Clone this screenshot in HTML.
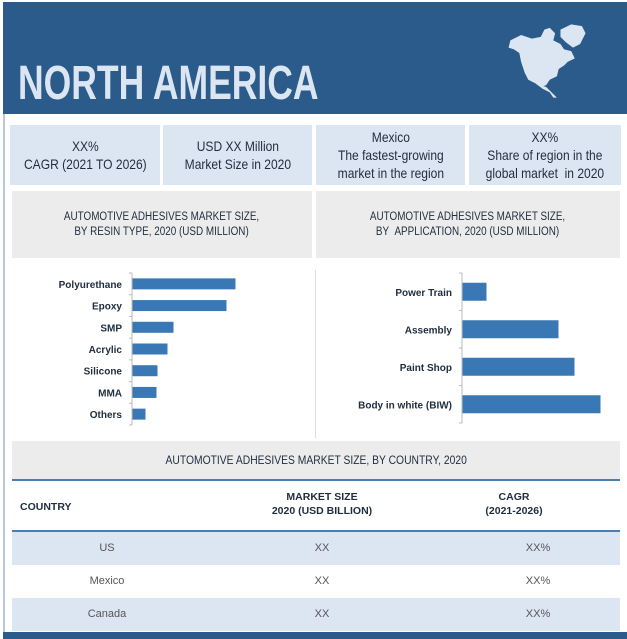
<!DOCTYPE html>
<html><head><meta charset="utf-8"><style>
*{margin:0;padding:0;box-sizing:border-box}
body{width:627px;height:639px;background:#fff;position:relative;overflow:hidden;font-family:"Liberation Sans",sans-serif;color:#1f2d3d}
.abs{position:absolute}
.box{position:absolute;background:#dce6f2;display:flex;align-items:center;justify-content:center;text-align:center;font-size:14px;line-height:18px;color:#1f2d3d}
.box span,.gray span{display:inline-block;transform:scaleX(0.86);white-space:nowrap}
.gray{position:absolute;background:#ececec;display:flex;align-items:center;justify-content:center;text-align:center;font-size:11.5px;line-height:15px;color:#1f2d3d}
.row{position:absolute;left:12px;width:608px;font-size:11px;color:#555}
.row span{position:absolute;top:0;transform:translateX(-50%)}
</style></head><body>
<div class="abs" style="left:3px;top:114px;width:2px;height:520px;background:#b8c8d8"></div>
<div class="abs" style="left:3px;top:2px;width:624px;height:112px;background:#2b5b8a"></div>
<div class="abs" style="left:18px;top:58px;font-size:48px;font-weight:bold;color:#dce6f2;line-height:52px;transform:scaleX(0.74);transform-origin:0 0;white-space:nowrap">NORTH AMERICA</div>
<svg class="abs" style="left:505px;top:20px" width="85" height="82" viewBox="0 0 95 90">
<path fill="#dce6f2" d="M6,22 L18,16 L30,20 L40,18 L44,10 L50,8 L56,14 L54,22 L62,26 L66,32 L74,34 L78,42 L70,46 L66,50 L60,54 L58,62 L50,66 L46,72 L40,74 L34,70 L26,66 L22,58 L18,46 L16,36 L10,32 L4,30 Z"/>
<path fill="#dce6f2" d="M62,10 L74,4 L86,6 L90,14 L84,26 L76,30 L68,24 L62,18 Z"/>
<path fill="#dce6f2" d="M34,70 L42,76 L50,80 L54,86 L58,86 L50,78 L46,74 Z"/>
</svg>
<div class="box" style="left:10px;top:125px;width:150px;height:60px"><span>XX%<br>CAGR (2021 TO 2026)</span></div>
<div class="box" style="left:163px;top:125px;width:149px;height:60px"><span>USD XX Million<br>Market Size in 2020</span></div>
<div class="box" style="left:316px;top:125px;width:149px;height:60px"><span>Mexico<br>The fastest-growing<br>market in the region</span></div>
<div class="box" style="left:469px;top:125px;width:152px;height:60px"><span>XX%<br>Share of region in the<br>global market &nbsp;in 2020</span></div>
<div class="gray" style="left:12px;top:191px;width:300px;height:67px"><span>AUTOMOTIVE ADHESIVES MARKET SIZE,<br>BY RESIN TYPE, 2020 (USD MILLION)</span></div>
<div class="gray" style="left:316px;top:191px;width:304px;height:67px"><span>AUTOMOTIVE ADHESIVES MARKET SIZE,<br>BY &nbsp;APPLICATION, 2020 (USD MILLION)</span></div>
<div class="abs" style="left:315px;top:270px;width:1px;height:168px;background:#ddd"></div>
<svg id="charts" class="abs" style="left:0;top:0" width="627" height="639"></svg>
<div class="gray" style="left:12px;top:441px;width:608px;height:38px;font-size:12px"><span>AUTOMOTIVE ADHESIVES MARKET SIZE, BY COUNTRY, 2020</span></div>
<div class="abs" style="left:12px;top:479px;width:608px;height:2px;background:#4a7fb0"></div>
<div class="row" style="top:490px;height:40px;font-weight:bold;color:#1f2d3d;font-size:10.5px;line-height:14px">
<span style="left:8px;transform:none;top:10px">COUNTRY</span>
<span style="left:310px;text-align:center;white-space:nowrap">MARKET SIZE<br>2020 (USD BILLION)</span>
<span style="left:502px;text-align:center;white-space:nowrap">CAGR<br>(2021-2026)</span>
</div>
<div class="abs" style="left:12px;top:530px;width:608px;height:2px;background:#4a7fb0"></div>
<div class="row" style="top:532px;height:33px;background:#dce6f2;line-height:33px"><span style="left:95px">US</span><span style="left:310px">XX</span><span style="left:526px">XX%</span></div>
<div class="row" style="top:565px;height:33px;line-height:33px"><span style="left:95px">Mexico</span><span style="left:310px">XX</span><span style="left:526px">XX%</span></div>
<div class="row" style="top:598px;height:33px;background:#dce6f2;line-height:33px"><span style="left:95px">Canada</span><span style="left:310px">XX</span><span style="left:526px">XX%</span></div>
<div class="abs" style="left:3px;top:632px;width:624px;height:7px;background:#2b5b8a"></div>
<script>
const resinCategories=["Polyurethane","Epoxy","SMP","Acrylic","Silicone","MMA","Others"];
const resinValues=[103,94,41,35,25,24,13];
const appCategories=["Power Train","Assembly","Paint Shop","Body in white (BIW)"];
const appValues=[24,96,112,138];
const NS="http://www.w3.org/2000/svg";
const svg=document.getElementById('charts');
function mk(t,a){const e=document.createElementNS(NS,t);for(const k in a)e.setAttribute(k,a[k]);svg.appendChild(e);return e;}
function drawChart(cats,vals,x0,yTop,yBot,scale,barH,prefix){
  const band=(yBot-yTop)/cats.length;
  const ax=mk('line',{x1:x0,x2:x0,y1:yTop,y2:yBot,stroke:'#bbb','stroke-width':1});
  
  
  for(let i=0;i<=cats.length;i++){
    const t=mk('line',{x1:x0-3,x2:x0,y1:yTop+i*band,y2:yTop+i*band,stroke:'#bbb','stroke-width':1});
    
    
  }
  cats.forEach((c,i)=>{
    const cy=yTop+band*(i+0.5);
    const r=mk('rect',{x:x0+0.5,y:cy-barH/2,width:vals[i]*scale,height:barH,fill:'#3a78b5'});
    
    
    const tx=mk('text',{x:x0-10,y:cy+4,'text-anchor':'end','font-size':'10','font-weight':'bold',fill:'#1f2d3d','font-family':'Liberation Sans, sans-serif'});
    tx.textContent=c;
    
    
  });
}
drawChart(resinCategories,resinValues,132,273,425,1,11,'resin');
drawChart(appCategories,appValues,462,273,423,1,18,'application');
</script>
</body></html>
